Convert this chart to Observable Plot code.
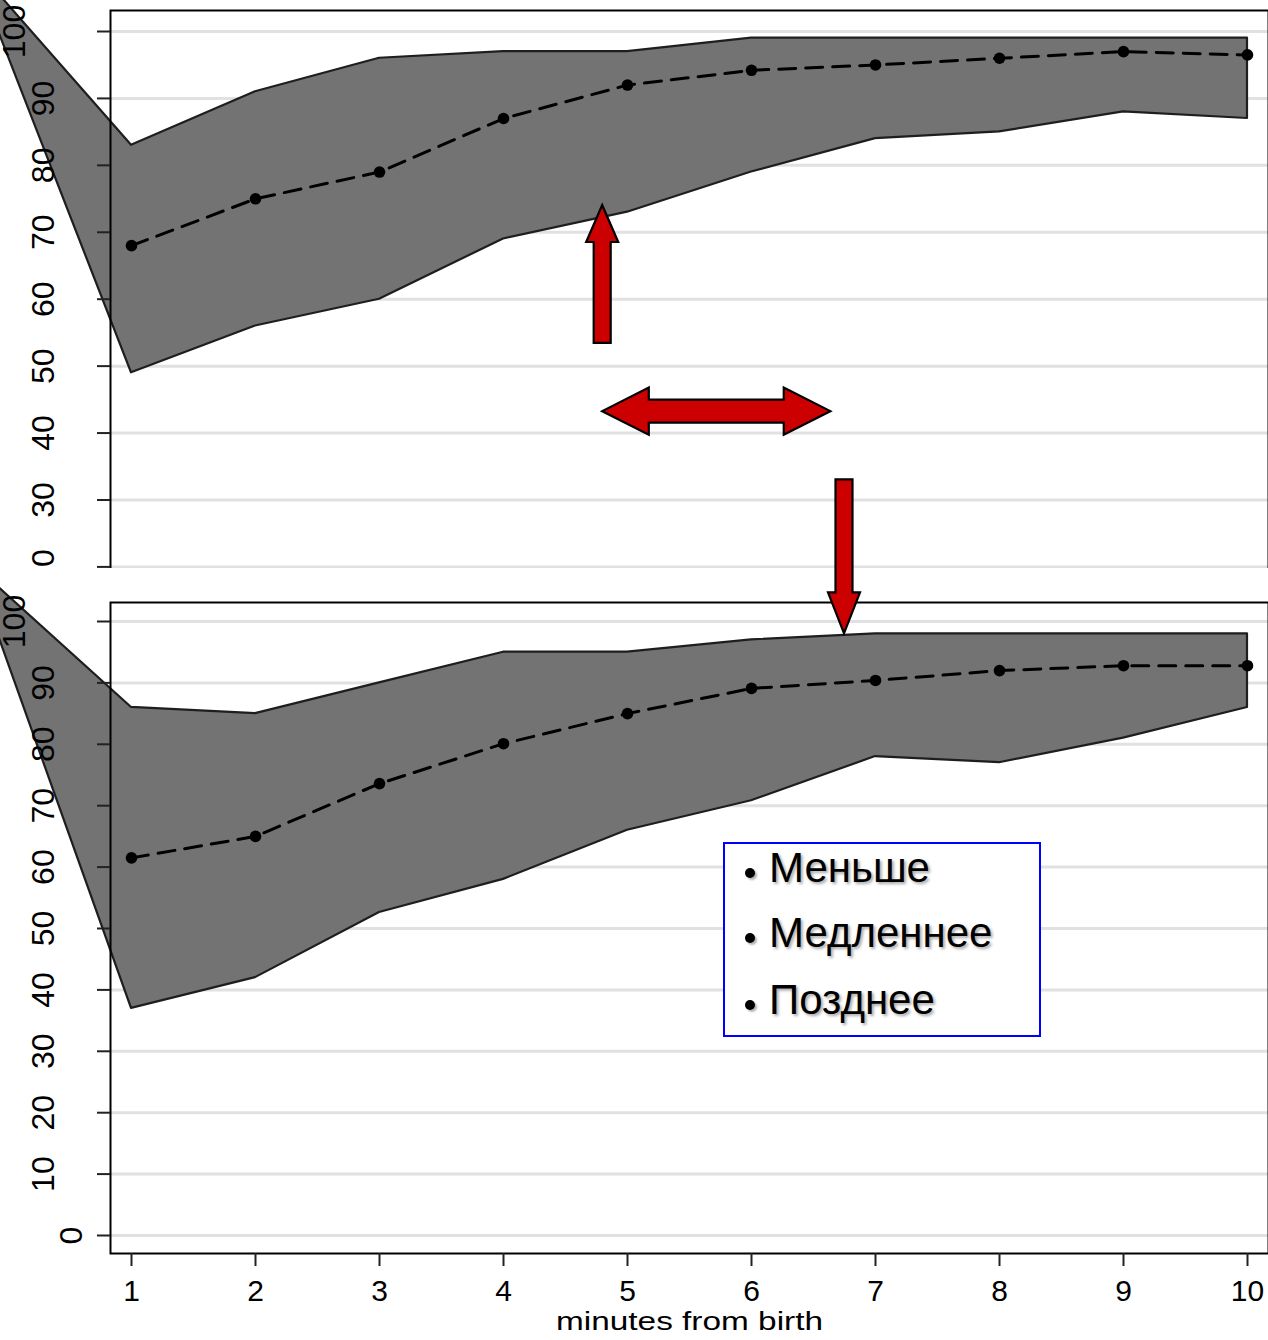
<!DOCTYPE html>
<html>
<head>
<meta charset="utf-8">
<script src="https://cdn.jsdelivr.net/npm/d3@7"></script>
<script src="https://cdn.jsdelivr.net/npm/@observablehq/plot@0.6"></script>
<style>
  html, body { margin: 0; padding: 0; background: #fff; }
  #page { position: relative; width: 1268px; height: 1340px; overflow: hidden; background: #fff;
          font-family: "Liberation Sans", Arial, Helvetica, sans-serif; }
  .layer { position: absolute; left: 0; width: 1268px; }
  #topPanel { top: 0; height: 568px; overflow: hidden; }
  #bottomPanel { top: 568px; height: 772px; overflow: hidden; }
  #annotations { top: 0; height: 640px; pointer-events: none; }
  #legendBox { position: absolute; left: 723px; top: 842px; width: 318px; height: 195px; box-sizing: border-box;
               border: 2.5px solid #0000ff; background: #fff; }
  .lgDot { position: absolute; width: 10px; height: 10px; border-radius: 50%; background: #000;
           box-shadow: 2px 2px 2px rgba(0,0,0,0.3); }
  .lgText { position: absolute; font-size: 42px; line-height: 42px; white-space: nowrap; color: #000;
            text-shadow: 2px 2px 3px rgba(0,0,0,0.35); }
</style>
</head>
<body>
<div id="page">
  <div id="topPanel" class="layer"></div>
  <div id="bottomPanel" class="layer"></div>
  <div id="annotations" class="layer"></div>
  <div id="legendBox"></div>
</div>
<script>
// ---------- data ----------
const minutes = [1, 2, 3, 4, 5, 6, 7, 8, 9, 10];
// the band starts just left of the picture, where its two edges meet
const bandMinutes = [-0.27, 1, 2, 3, 4, 5, 6, 7, 8, 9, 10];

const topUpper = [109.8, 83, 91, 96, 97, 97, 99, 99, 99, 99, 99];
const topLower = [109.4, 49, 56, 60, 69, 73, 79, 84, 85, 88, 87];
const topMean = [68, 75, 79, 87, 92, 94.2, 95, 96, 97, 96.5];

const bottomUpper = [109.2, 86, 85, 90, 95, 95, 97, 98, 98, 98, 98];
const bottomLower = [108.8, 37, 42, 52.6, 58, 66, 70.8, 78, 77, 81, 86];
const bottomMean = [61.5, 65, 73.6, 80.1, 85, 89.1, 90.4, 92, 92.8, 92.8];

const topYTicks = [20, 30, 40, 50, 60, 70, 80, 90, 100];
const bottomYTicks = [0, 10, 20, 30, 40, 50, 60, 70, 80, 90, 100];
const xTicks = [1, 2, 3, 4, 5, 6, 7, 8, 9, 10];
const xLabel = "minutes from birth";
const legendItems = ["Меньше", "Медленнее", "Позднее"];

// annotation arrows (in data units of the upper panel)
const arrowKinds = ["up", "both", "down"];
const arrowAt = [4.8, 43.2, 6.75];
const arrowFrom = [53.4, 4.8, 33];
const arrowTo = [74, 6.64, 10];

// ---------- layout ----------
const FONT = '"Liberation Sans", Arial, Helvetica, sans-serif';
const xDomain = [0.83065, 10.1694];
const topYDomain = [19.313, 103.138];
const bottomYDomain = [-2.932, 103.094];

function yLabelMarks(ticks) {
  const offsets = {1: -38.5, 2: -67, 3: -96};
  return [1, 2, 3].map(n => Plot.text(ticks.filter(t => String(t).length === n), {
    frameAnchor: "left", y: d => d, text: d => String(d), rotate: -90,
    textAnchor: "middle", lineAnchor: "middle", dx: offsets[n], fontSize: 32, fill: "black"
  }));
}

function panel(o) {
  const band = bandMinutes.map((m, i) => ({m, lo: o.lower[i], hi: o.upper[i]}));
  const mean = minutes.map((m, i) => ({m, v: o.mean[i]}));
  const marks = [
    Plot.ruleY(o.yTicks, {stroke: "#e1e1e1", strokeWidth: 3}),
    Plot.areaY(band, {x: "m", y1: "lo", y2: "hi", fill: "#737373", stroke: "#1e1e1e", strokeWidth: 2.2}),
    Plot.lineY(mean, {x: "m", y: "v", stroke: "black", strokeWidth: 3, strokeDasharray: "17,10"}),
    Plot.dot(mean, {x: "m", y: "v", r: 5.8, fill: "black"}),
    Plot.frame({stroke: "black", strokeWidth: 2}),
    Plot.axisY(o.yTicks, {tickSize: 13, tickFormat: () => "", stroke: "#222", strokeWidth: 2, label: null}),
    ...yLabelMarks(o.yTicks)
  ];
  if (o.showX) {
    marks.push(
      Plot.axisX(xTicks, {tickSize: 13, tickPadding: 13, fontSize: 30, tickFormat: d => String(d),
                          stroke: "#222", strokeWidth: 2, label: null}),
      Plot.text([xLabel], {frameAnchor: "bottom", text: d => d, dy: 67.7, fontSize: 26, textAnchor: "middle",
                           lineAnchor: "middle", fill: "black"})
    );
  }
  return Plot.plot({
    width: 1268, height: o.height,
    marginTop: o.marginTop, marginBottom: o.marginBottom, marginLeft: 110, marginRight: 0,
    style: {fontFamily: FONT, color: "black", background: "white"},
    x: {domain: xDomain, axis: null},
    y: {domain: o.yDomain, axis: null},
    marks
  });
}

const topSvg = panel({
  upper: topUpper, lower: topLower, mean: topMean, yTicks: topYTicks, yDomain: topYDomain,
  height: 568, marginTop: 10, marginBottom: -3, showX: false
});
document.getElementById("topPanel").append(topSvg);

const bottomSvg = panel({
  upper: bottomUpper, lower: bottomLower, mean: bottomMean, yTicks: bottomYTicks, yDomain: bottomYDomain,
  height: 772, marginTop: 34, marginBottom: 87, showX: true
});
document.getElementById("bottomPanel").append(bottomSvg);
d3.select(bottomSvg).selectAll("text").filter(function () { return this.textContent === xLabel; })
  .attr("textLength", 267).attr("lengthAdjust", "spacingAndGlyphs");

// ---------- arrows overlay (same scales as the upper panel) ----------
function arrowMark(index, scales) {
  const x = scales.x, y = scales.y;
  const g = d3.create("svg:g");
  arrowKinds.forEach((kind, i) => {
    let pts;
    if (kind === "up" || kind === "down") {
      const sw = 8.5, hw = 16, hl = kind === "up" ? 37 : 41;
      const cx = x(arrowAt[i]), y0 = y(arrowFrom[i]), y1 = y(arrowTo[i]);
      const dir = Math.sign(y1 - y0);
      const yb = y1 - dir * hl;
      pts = [[cx - sw, y0], [cx - sw, yb], [cx - hw, yb], [cx, y1], [cx + hw, yb], [cx + sw, yb], [cx + sw, y0]];
    } else {
      const sw = 11.5, hw = 23.5, hl = 46.6;
      const cy = y(arrowAt[i]), xl = x(arrowFrom[i]), xr = x(arrowTo[i]);
      pts = [[xl, cy], [xl + hl, cy - hw], [xl + hl, cy - sw], [xr - hl, cy - sw], [xr - hl, cy - hw], [xr, cy],
             [xr - hl, cy + hw], [xr - hl, cy + sw], [xl + hl, cy + sw], [xl + hl, cy + hw]];
    }
    g.append("polygon")
      .attr("points", pts.map(p => p.join(",")).join(" "))
      .attr("fill", "#cc0000").attr("stroke", "black").attr("stroke-width", 2.2).attr("stroke-linejoin", "miter");
  });
  return g.node();
}

const annSvg = Plot.plot({
  width: 1268, height: 640, marginTop: 10, marginBottom: 69, marginLeft: 110, marginRight: 0,
  style: {background: "transparent", overflow: "visible"},
  x: {domain: xDomain, axis: null},
  y: {domain: topYDomain, axis: null},
  marks: [
    Plot.dot(arrowKinds.map((k, i) => ({px: k === "both" ? arrowFrom[i] : arrowAt[i], py: k === "both" ? arrowAt[i] : arrowTo[i]})),
      {x: "px", y: "py", r: 1, fill: "none", stroke: "none"}),
    arrowMark
  ]
});
document.getElementById("annotations").append(annSvg);

// ---------- text box ----------
const page = document.getElementById("page");
const baselines = [883, 948, 1015];
legendItems.forEach((t, i) => {
  const dot = document.createElement("div");
  dot.className = "lgDot";
  dot.style.left = "745px";
  dot.style.top = (baselines[i] - 15) + "px";
  page.append(dot);
  const span = document.createElement("div");
  span.className = "lgText";
  span.textContent = t;
  span.style.left = "769px";
  span.style.top = (baselines[i] - 35.6) + "px";
  page.append(span);
});
</script>
</body>
</html>
